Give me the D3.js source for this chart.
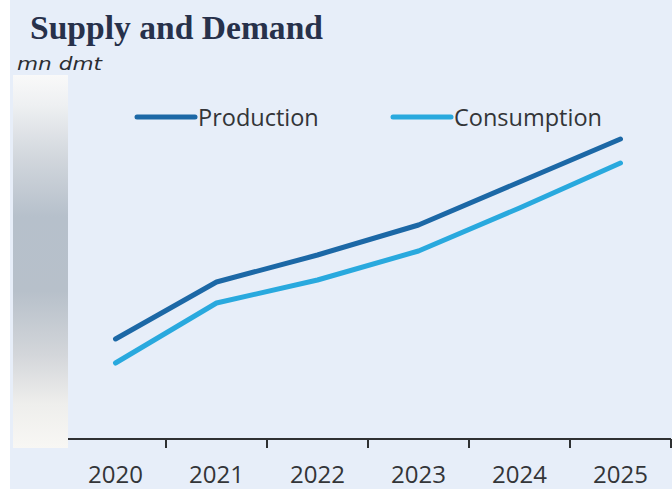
<!DOCTYPE html>
<html>
<head>
<meta charset="utf-8">
<script src="https://cdn.jsdelivr.net/npm/d3@7"></script>
<style>
  html, body { margin: 0; padding: 0; background: #ffffff; }
  svg { display: block; }
</style>
</head>
<body>
<svg id="chart" width="672" height="489"></svg>
<script>
// Supply and demand outlook, million dry metric tonnes
const years = ["2020", "2021", "2022", "2023", "2024", "2025"];
const production = [20.0, 22.85, 24.2, 25.7, 27.85, 30.0];
const consumption = [18.8, 21.8, 22.95, 24.4, 26.55, 28.8];
const seriesNames = ["Production", "Consumption"];
const seriesColors = ["#1c68a6", "#29a9de"];

const W = 672, H = 489;
const svg = d3.select("#chart");

// panel background
svg.append("rect")
  .attr("x", 10).attr("y", 0)
  .attr("width", W - 10).attr("height", H)
  .attr("fill", "#e7eef9");

const x = d3.scaleBand().domain(years).range([65, 671]).padding(0);
const y = d3.scaleLinear().domain([15, 33]).range([439, 79]);

// x axis: baseline with ticks between years
const axis = d3.axisBottom(x).tickSize(0).tickPadding(0);
const gx = svg.append("g").attr("transform", "translate(0,439)").call(axis);
gx.select(".domain").remove();
gx.append("line")
  .attr("x1", 65).attr("x2", 671)
  .attr("stroke", "#2f3133").attr("stroke-width", 2);
gx.selectAll(".sep")
  .data(years)
  .join("line")
  .attr("class", "sep")
  .attr("x1", d => x(d) + x.bandwidth())
  .attr("x2", d => x(d) + x.bandwidth())
  .attr("y1", 0).attr("y2", 9)
  .attr("stroke", "#2f3133").attr("stroke-width", 2);
gx.selectAll(".tick text")
  .attr("y", 44)
  .attr("dy", 0)
  .attr("font-family", "'Open Sans', sans-serif")
  .attr("font-size", 24)
  .attr("fill", "#333538");

// shaded value strip on the left
const defs = svg.append("defs");
const grad = defs.append("linearGradient")
  .attr("id", "strip").attr("x1", 0).attr("y1", 0).attr("x2", 0).attr("y2", 1);
[[0, "#f9f9f9"], [0.08, "#eef0f2"], [0.22, "#d2d7dd"], [0.38, "#b6c0cb"],
 [0.58, "#b7c0ca"], [0.75, "#d3d6da"], [0.88, "#eeeeec"], [1, "#f8f7f4"]]
  .forEach(([o, c]) => grad.append("stop").attr("offset", o).attr("stop-color", c));
svg.append("rect")
  .attr("x", 13).attr("y", 75)
  .attr("width", 55).attr("height", 373)
  .attr("fill", "url(#strip)");

// series lines
const line = d3.line()
  .x((d, i) => x(years[i]) + x.bandwidth() / 2)
  .y(d => y(d));
[production, consumption].forEach((vals, k) => {
  svg.append("path")
    .datum(vals)
    .attr("d", line)
    .attr("fill", "none")
    .attr("stroke", seriesColors[k])
    .attr("stroke-width", 5)
    .attr("stroke-linecap", "round")
    .attr("stroke-linejoin", "round");
});

// legend
const legendX = [137, 393];
seriesNames.forEach((name, k) => {
  const g = svg.append("g").attr("transform", `translate(${legendX[k]},117)`);
  g.append("line")
    .attr("x1", 0).attr("x2", 58)
    .attr("stroke", seriesColors[k]).attr("stroke-width", 5)
    .attr("stroke-linecap", "round");
  g.append("text")
    .attr("x", 61).attr("y", 9)
    .attr("font-family", "'Open Sans', sans-serif")
    .attr("font-size", 23.5)
    .attr("fill", "#333538")
    .text(name);
});

// title and unit
svg.append("text")
  .attr("x", 30).attr("y", 39)
  .attr("font-family", "'Liberation Serif', serif")
  .attr("font-weight", "bold")
  .attr("font-size", 34)
  .attr("textLength", 293)
  .attr("lengthAdjust", "spacingAndGlyphs")
  .attr("fill", "#27314b")
  .text("Supply and Demand");
svg.append("text")
  .attr("x", 17).attr("y", 70)
  .attr("font-family", "'DejaVu Sans', sans-serif")
  .attr("font-style", "italic")
  .attr("font-size", 18)
  .attr("textLength", 85)
  .attr("lengthAdjust", "spacingAndGlyphs")
  .attr("fill", "#2b2d31")
  .text("mn dmt");
</script>
</body>
</html>
